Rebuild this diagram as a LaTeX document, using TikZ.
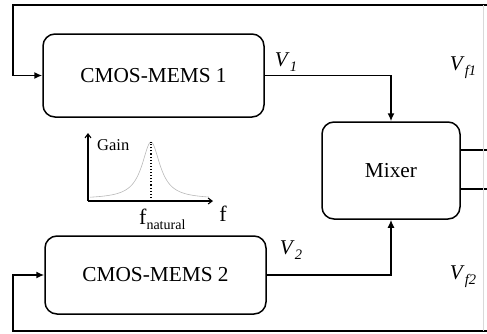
\documentclass[tikz,border=0pt]{standalone}
\usepackage{fontspec}
\setmainfont{Liberation Serif}
\usetikzlibrary{arrows.meta}
\newcommand{\volt}[1]{\textit{V}\raisebox{-0.55ex}{\fontsize{14.5}{14.5}\selectfont\textit{#1}}}
\begin{document}
\begin{tikzpicture}[x=1pt,y=-1pt,
  blk/.style={draw, line width=1.5pt, rounded corners=12pt, inner sep=0pt,
    font=\fontsize{21.3}{24}\selectfont},
  wire/.style={line width=1.5pt},
  tip/.style={-{Latex[length=8pt,width=7pt]}},
  axis/.style={line width=1.1pt, -{Straight Barb[length=4pt,width=6pt]}},
  lbl/.style={font=\fontsize{21}{24}\selectfont, inner sep=0pt}]
\useasboundingbox (0,0) rectangle (487,333);
% blocks
\node[blk, minimum width=221pt, minimum height=83pt] (m1) at (153.5,75.5) {CMOS-MEMS 1};
\node[blk, minimum width=221pt, minimum height=78pt] (m2) at (155.5,275) {CMOS-MEMS 2};
\node[blk, minimum width=138pt, minimum height=97pt] (mix) at (391,170.5) {Mixer};
% coordinates
\coordinate (tl) at (13,5);
\coordinate (tr) at (487,5);
\coordinate (bl) at (13,331);
\coordinate (br) at (487,331);
\coordinate (o1) at (487,150);
\coordinate (o2) at (487,189);
% connectors
\draw[wire,tip] (m1.east) -| (mix.north);
\draw[wire,tip] (m2.east) -| (mix.south);
\draw[wire] (o1 -| mix.east) -- (o1);
\draw[wire] (o2 -| mix.east) -- (o2);
\draw[wire,tip] (tr) -- (tl) |- (m1.west);
\draw[wire,tip] (br) -- (bl) |- (m2.west);
\draw[gray!30, line width=0.6pt] (483,5) -- (483,331);
% labels
\node[lbl] (v1) at (286,62) {\volt{1}};
\node[lbl] (v2) at (291,250) {\volt{2}};
\node[lbl] (vf1) at (463,68) {\volt{f1}};
\node[lbl] (vf2) at (463,277) {\volt{f2}};
% gain plot
\coordinate (O) at (88,201);
\coordinate (ytop) at (88,133);
\coordinate (xend) at (213,201);
\draw[gray!55, line width=0.6pt, domain=90:209, samples=120]
  plot (\x, {199 - 57/(1+((\x-151)/11)^2)});
\draw[dotted, line width=1.1pt] (151,201) -- (151,142);
\draw[axis] (O) -- (ytop);
\draw[axis] (O) -- (xend);
\node[font=\fontsize{16.5}{18}\selectfont, anchor=west, inner sep=0pt] (gain) at (97,145) {Gain};
\node[font=\fontsize{22}{24}\selectfont, inner sep=0pt] (fx) at (223,214) {f};
\node[font=\fontsize{22}{24}\selectfont, anchor=base west, inner sep=0pt] (fn) at (139,224)
  {f\raisebox{-0.5ex}{\fontsize{14}{14}\selectfont natural}};
\end{tikzpicture}
\end{document}
